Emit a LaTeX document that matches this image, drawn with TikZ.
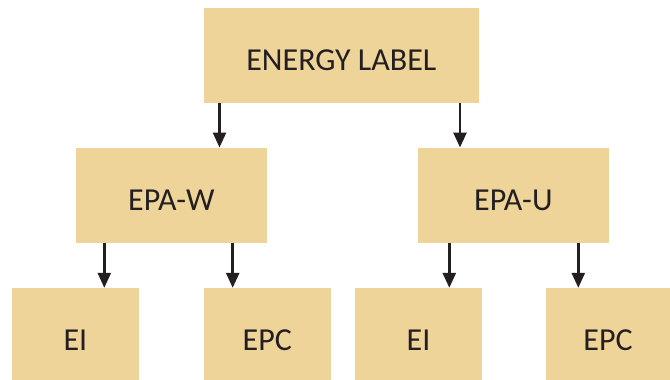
\documentclass[tikz,border=0pt]{standalone}
\usepackage{fontspec}
\setmainfont{Carlito}
\usetikzlibrary{arrows.meta}
\definecolor{boxfill}{HTML}{EFD49A}
\definecolor{ink}{HTML}{231F20}
\begin{document}
\begin{tikzpicture}[x=1pt,y=-1pt,
  box/.style={fill=boxfill,draw=none,inner sep=0pt,text=ink,font=\fontsize{32}{34}\selectfont,text height=31pt,text depth=0pt},
  leaf/.style={box,text height=33.5pt},
  arr/.style={draw=ink,line width=2.6pt,-{Triangle[length=15pt,width=13pt]}}]
\useasboundingbox (0,0) rectangle (670,380);
\node[box,minimum width=274.7pt,minimum height=94.7pt] (top) at (341.35,55.35) {ENERGY LABEL};
\node[box,minimum width=190.7pt,minimum height=95pt] (epaw) at (171.35,195.2) {EPA-W};
\node[box,minimum width=190.7pt,minimum height=95pt] (epau) at (513.35,195.2) {EPA-U};
\node[leaf,minimum width=126.7pt,minimum height=91.5pt] (ei1) at (75.35,333.75) {EI};
\node[leaf,minimum width=126.7pt,minimum height=91.5pt] (epc1) at (267.35,333.75) {EPC};
\node[leaf,minimum width=127pt,minimum height=91.5pt] (ei2) at (418.5,333.75) {EI};
\node[leaf,minimum width=124pt,minimum height=91.5pt] (epc2) at (608,333.75) {EPC};
\coordinate (a1) at (219.5,0);
\coordinate (a2) at (460,0);
\coordinate (a3) at (104.3,0);
\coordinate (a4) at (232.7,0);
\coordinate (a5) at (449.3,0);
\coordinate (a6) at (578.3,0);
\draw[arr] (top.south -| a1) -- (epaw.north -| a1);
\draw[arr] (top.south -| a2) -- (epau.north -| a2);
\draw[arr] (epaw.south -| a3) -- (ei1.north -| a3);
\draw[arr] (epaw.south -| a4) -- (epc1.north -| a4);
\draw[arr] (epau.south -| a5) -- (ei2.north -| a5);
\draw[arr] (epau.south -| a6) -- (epc2.north -| a6);
\end{tikzpicture}
\end{document}
